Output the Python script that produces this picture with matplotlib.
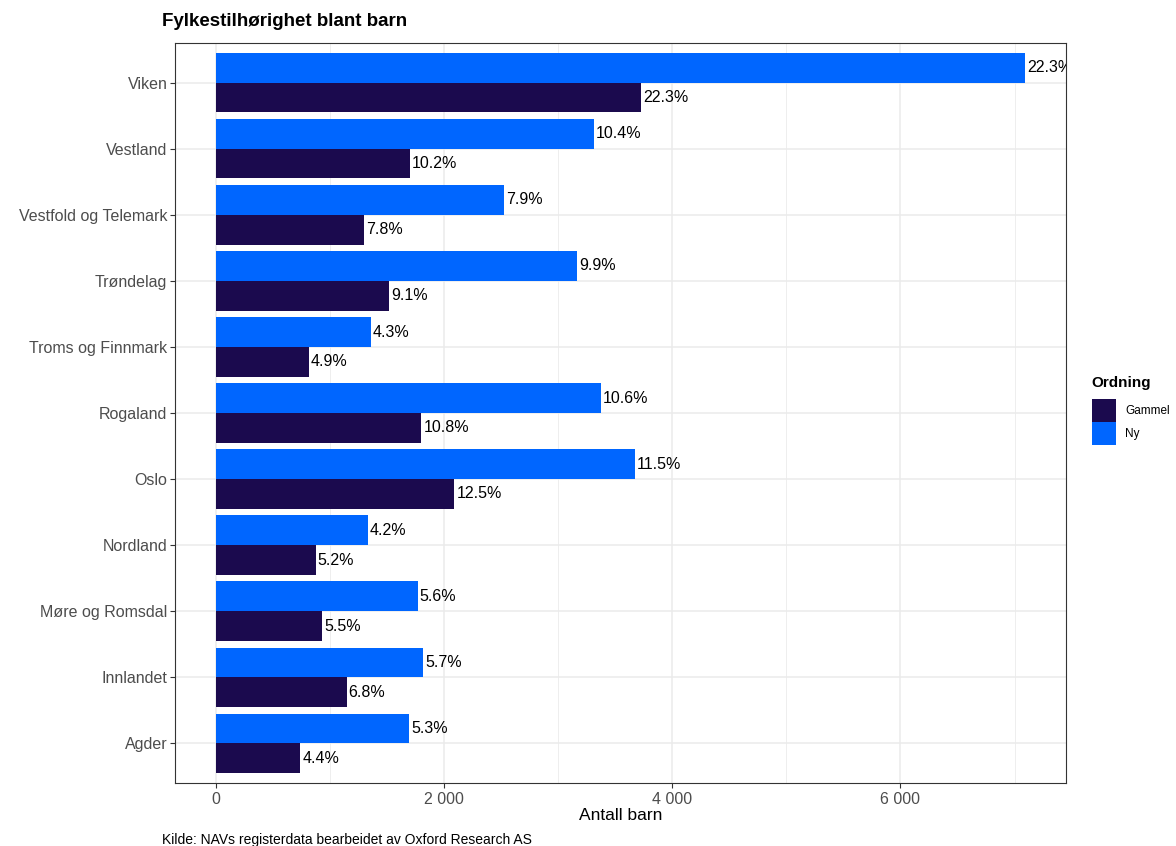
import matplotlib.pyplot as plt
from matplotlib.patches import Patch
from matplotlib.ticker import FuncFormatter, MultipleLocator

plt.rcParams['font.family'] = ['Liberation Sans', 'DejaVu Sans']

fylker = ["Agder", "Innlandet", "Møre og Romsdal", "Nordland", "Oslo", "Rogaland",
          "Troms og Finnmark", "Trøndelag", "Vestfold og Telemark", "Vestland", "Viken"]
gammel = [743, 1148, 933, 879, 2093, 1804, 819, 1521, 1300, 1705, 3730]
ny = [1696, 1818, 1772, 1336, 3671, 3374, 1361, 3170, 2529, 3316, 7095]
gammel_pct = ["4.4%", "6.8%", "5.5%", "5.2%", "12.5%", "10.8%", "4.9%", "9.1%", "7.8%", "10.2%", "22.3%"]
ny_pct = ["5.3%", "5.7%", "5.6%", "4.2%", "11.5%", "10.6%", "4.3%", "9.9%", "7.9%", "10.4%", "22.3%"]

farge_gammel = "#1B0A4E"
farge_ny = "#0066FF"

fig = plt.figure(figsize=(11.76, 8.46), dpi=100)
ax = fig.add_axes([175 / 1176, 1 - 783 / 846, (1066 - 175) / 1176, (783 - 43) / 846])

pos = list(range(len(fylker)))
h = 0.45
ax.barh([p - h / 2 for p in pos], gammel, height=h, color=farge_gammel, zorder=3)
ax.barh([p + h / 2 for p in pos], ny, height=h, color=farge_ny, zorder=3)

# verdietiketter, klippes mot panelet som i ggplot
for p, v, t in zip(pos, gammel, gammel_pct):
    ax.annotate(t, (v, p - h / 2), xytext=(2, 0), textcoords='offset pixels',
                va='center', ha='left', fontsize=11.5, color='black', clip_on=True, zorder=4)
for p, v, t in zip(pos, ny, ny_pct):
    ax.annotate(t, (v, p + h / 2), xytext=(2, 0), textcoords='offset pixels',
                va='center', ha='left', fontsize=11.5, color='black', clip_on=True, zorder=4)

ax.set_xlim(-355, 7450)
ax.set_ylim(-0.6, 10.6)
ax.set_yticks(pos)
ax.set_yticklabels(fylker)
ax.xaxis.set_major_locator(MultipleLocator(2000))
ax.xaxis.set_minor_locator(MultipleLocator(1000))
ax.xaxis.set_major_formatter(FuncFormatter(lambda x, _: f"{int(x):,}".replace(",", " ")))

ax.grid(which='major', color='#EBEBEB', linewidth=1.1, zorder=0)
ax.grid(which='minor', axis='x', color='#EBEBEB', linewidth=0.6, zorder=0)
ax.tick_params(which='major', length=3.5, width=0.8, color='#333333',
               labelsize=11.5, labelcolor='#4D4D4D', pad=2)
ax.tick_params(axis='x', which='major', pad=3)
ax.tick_params(which='minor', length=0)
for s in ax.spines.values():
    s.set_color('#333333')
    s.set_linewidth(0.8)

ax.set_xlabel("Antall barn", fontsize=12.5, labelpad=1)

fig.text(162 / 1176, 1 - 22 / 846, "Fylkestilhørighet blant barn", fontsize=13.5,
         fontweight='bold', va='center', ha='left')
fig.text(162 / 1176, 1 - 840 / 846, "Kilde: NAVs registerdata bearbeidet av Oxford Research AS",
         fontsize=10, va='center', ha='left')

# legende: tittel for seg, nøklene tett under
fig.text(1091 / 1176, 1 - 383 / 846, "Ordning", fontsize=11, fontweight='bold',
         va='center', ha='left')
handles = [Patch(facecolor=farge_gammel), Patch(facecolor=farge_ny)]
fig.legend(handles, ["Gammel", "Ny"], loc='upper left',
           bbox_to_anchor=(1092 / 1176, 1 - 399 / 846), frameon=False,
           fontsize=8.5, handlelength=2.0, handleheight=2.6, handletextpad=0.8,
           labelspacing=0.05, borderaxespad=0, borderpad=0)

fig.savefig("out.png", dpi=100)
